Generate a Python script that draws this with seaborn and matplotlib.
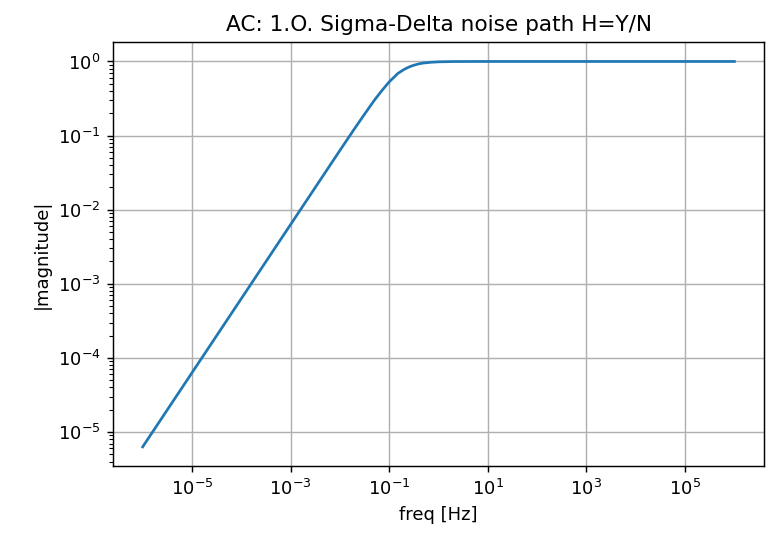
import matplotlib
matplotlib.use('Agg')
import matplotlib.pyplot as plt
import seaborn as sns
import pandas as pd

# values
freq = [1e-6, 1e-5, 1e-4, 1e-3, 1e-2, 2e-2, 3e-2, 5e-2, 7e-2, 0.1, 0.15, 0.2,
        0.25, 0.3, 0.4, 0.5, 0.7, 1, 2, 5, 10, 1e2, 1e3, 1e4, 1e5, 1e6]
magnitude = [6.3e-6, 6.3e-5, 6.3e-4, 6.3e-3, 0.063, 0.125, 0.185, 0.3, 0.40,
             0.53, 0.69, 0.78, 0.84, 0.88, 0.93, 0.953, 0.975, 0.988, 0.997,
             0.9995, 1.0, 1.0, 1.0, 1.0, 1.0, 1.0]
title = 'AC: 1.O. Sigma-Delta noise path H=Y/N'

df = pd.DataFrame({'freq': freq, 'magnitude': magnitude})

fig, ax = plt.subplots(figsize=(769 / 130, 534 / 130), dpi=130)
fig.subplots_adjust(left=0.147, right=0.9935, bottom=0.127, top=0.921)

sns.lineplot(data=df, x='freq', y='magnitude', ax=ax, color='#1f77b4', linewidth=1.5)
ax.set_xscale('log')
ax.set_yscale('log')
ax.grid(True, which='major')
ax.set_title(title)
ax.set_xlabel('freq [Hz]')
ax.set_ylabel('|magnitude|')

fig.savefig('out.png', dpi=130)
